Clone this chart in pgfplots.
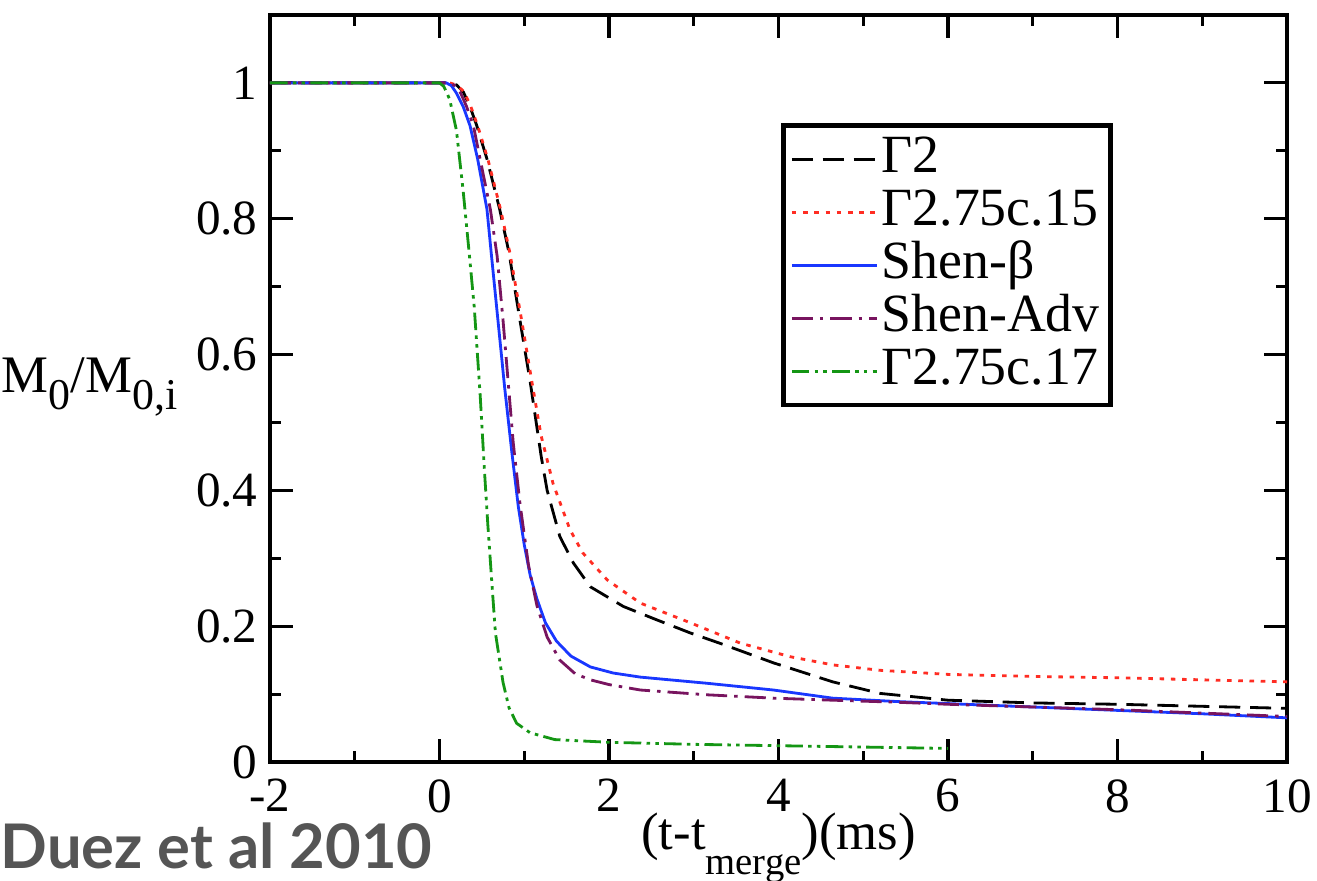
\documentclass[border=0pt]{standalone}
\usepackage{pgfplots}
\pgfplotsset{compat=1.18}
\usepackage{fontspec}
\setmainfont{Liberation Serif}
\newfontfamily\gillfont{Lato}
\definecolor{cred}{RGB}{255,45,35}
\definecolor{cblue}{RGB}{25,55,255}
\definecolor{cpurple}{RGB}{120,20,95}
\definecolor{cgreen}{RGB}{20,150,20}
\definecolor{cgray}{RGB}{85,85,85}
\newcommand\ysub[1]{\raisebox{-5pt}{\fontsize{12.5}{13}\selectfont #1}}
\newcommand\xsub[1]{\raisebox{-7pt}{\fontsize{11}{12}\selectfont #1}}
\begin{document}
\begin{tikzpicture}
\useasboundingbox (-2.70,-1.19) rectangle (10.47,7.62);
\begin{axis}[
  at={(0,0)}, anchor=south west,
  scale only axis, width=10.17cm, height=7.47cm,
  xmin=-2, xmax=10, ymin=0, ymax=1.1,
  xtick={-2,0,2,4,6,8,10}, xticklabels={-2,0,2,4,6,8,10},
  ytick={0,0.2,0.4,0.6,0.8,1}, yticklabels={0,0.2,0.4,0.6,0.8,1},
  minor x tick num=1, minor y tick num=1,
  tick align=inside, major tick length=0.23cm, minor tick length=0.11cm,
  axis line style={line width=0.9pt},
  every tick/.style={black, line width=0.9pt},
  tick label style={font=\fontsize{14}{15}\selectfont},
  xticklabel style={yshift=-0.05cm},
  xlabel={(t-t\xsub{merge})(ms)},
  xlabel style={font=\fontsize{15}{16}\selectfont, at={(axis description cs:0.5,0)}, anchor=base, yshift=-0.88cm},
  ylabel={M\ysub{0}/M\ysub{0,i}},
  ylabel style={font=\fontsize{15}{16}\selectfont, rotate=-90, at={(axis description cs:-0.079,0.495)}, anchor=base east},
  legend style={at={(axis description cs:0.5025,0.855)}, anchor=north west,
    draw=black, line width=1.3pt, inner sep=2pt,
    font=\fontsize{15.3}{16}\selectfont,
    nodes={inner sep=1pt, text height=0.36cm, text depth=0.10cm}},
  legend cell align=left,
  legend image code/.code={\draw[#1] plot coordinates {(0cm,0cm) (0.85cm,0cm)};},
]
% Gamma2 black dashed
\addplot[black, line width=0.8pt, dash pattern=on 6pt off 2.8pt] coordinates {
(-2,1.0) (0.12,1.0) (0.2,0.997) (0.28,0.987) (0.36,0.965) (0.44,0.937) (0.56,0.888) (0.71,0.814) (0.82,0.75)
(0.95,0.65) (1.07,0.56) (1.2,0.45) (1.27,0.40) (1.42,0.332) (1.58,0.293) (1.78,0.258)
(2.17,0.229) (2.57,0.209) (2.96,0.19) (3.35,0.173) (3.94,0.146) (4.64,0.118) (5.2,0.101)
(6,0.091) (7,0.087) (8,0.085) (9,0.082) (10,0.079)};
\addlegendentry{Γ2}
% Gamma2.75c.15 red dotted
\addplot[cred, line width=0.8pt, dash pattern=on 1.3pt off 1.9pt] coordinates {
(-2,1.0) (0.12,1.0) (0.2,0.997) (0.29,0.987) (0.37,0.965) (0.45,0.937) (0.57,0.888) (0.72,0.814) (0.83,0.75)
(0.97,0.65) (1.09,0.56) (1.2,0.48) (1.34,0.41) (1.54,0.342) (1.69,0.308) (1.98,0.268)
(2.37,0.234) (2.96,0.205) (3.55,0.175) (4.14,0.155) (4.64,0.143) (5.2,0.135) (6,0.129)
(7,0.126) (8,0.124) (9,0.121) (10,0.118)};
\addlegendentry{Γ2.75c.15}
% Shen-beta blue solid
\addplot[cblue, line width=0.8pt] coordinates {
(-2,1.0) (0.08,1.0) (0.14,0.996) (0.2,0.985) (0.28,0.965) (0.36,0.937) (0.45,0.888) (0.56,0.814) (0.61,0.75)
(0.69,0.65) (0.77,0.55) (0.85,0.46) (0.93,0.376) (1.0,0.32) (1.07,0.275) (1.15,0.24)
(1.25,0.205) (1.38,0.178) (1.55,0.156) (1.78,0.14) (2.05,0.131) (2.37,0.125) (3.15,0.116)
(3.94,0.106) (4.64,0.094) (5.4,0.089) (6,0.086) (7,0.081) (8,0.076) (9,0.071) (10,0.065)};
\addlegendentry{Shen-β}
% Shen-Adv purple dash-dot
\addplot[cpurple, line width=0.8pt, dash pattern=on 6pt off 2pt on 1pt off 2pt] coordinates {
(-2,1.0) (0.12,1.0) (0.18,0.996) (0.25,0.985) (0.32,0.965) (0.4,0.937) (0.5,0.875) (0.6,0.814) (0.68,0.745)
(0.75,0.65) (0.81,0.56) (0.87,0.47) (0.95,0.38) (1.05,0.29) (1.15,0.23) (1.27,0.184)
(1.42,0.15) (1.6,0.13) (1.78,0.121) (2.0,0.114) (2.37,0.106) (3.15,0.099) (3.94,0.094)
(4.64,0.091) (5.4,0.088) (6,0.085) (7,0.081) (8,0.077) (9,0.072) (10,0.067)};
\addlegendentry{Shen-Adv}
% Gamma2.75c.17 green dash-dot-dot
\addplot[cgreen, line width=0.8pt, dash pattern=on 5pt off 1.5pt on 1pt off 1.5pt on 1pt off 1.5pt] coordinates {
(-2,1.0) (0,1.0) (0.05,0.995) (0.12,0.976) (0.2,0.93) (0.28,0.84) (0.35,0.75)
(0.41,0.67) (0.48,0.54) (0.53,0.43) (0.57,0.35) (0.62,0.26) (0.66,0.19) (0.75,0.117)
(0.82,0.08) (0.91,0.057) (1.07,0.043) (1.36,0.033) (2,0.029) (3,0.026) (4,0.024)
(5,0.022) (6,0.02)};
\addlegendentry{Γ2.75c.17}
\end{axis}
\node[anchor=base west, inner sep=0pt, text=cgray, font=\gillfont\bfseries\fontsize{17.5}{19}\selectfont] at (-2.70,-1.06) {Duez et al 2010};
\end{tikzpicture}
\end{document}
